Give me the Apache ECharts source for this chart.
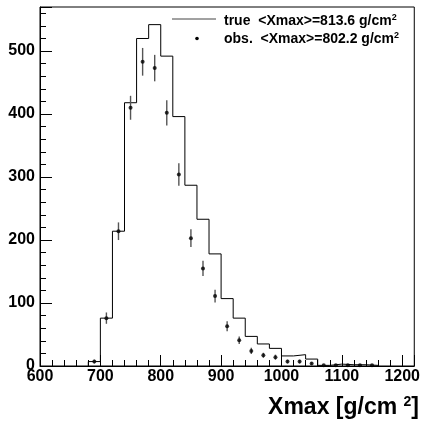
<!DOCTYPE html>
<html><head><meta charset="utf-8">
<script src="https://cdn.jsdelivr.net/npm/echarts@6/dist/echarts.min.js"></script>
<style>html,body{margin:0;padding:0;background:#fff}#c{width:423px;height:423px}</style>
</head><body><div id="c"></div>
<script>
// ---- data ----
const binStart = 680;
const binWidth = 20;
const trueCounts = [7, 76, 214, 418, 520, 542, 492, 396, 287, 233, 178, 107, 76, 47, 35, 28, 16, 18, 11, 1, 3, 2, 2, 1];
const obsCounts  = [7, 76, 214, 410, 483, 473, 402, 304, 203, 155, 111, 63, 41, 24, 17, 14, 7, 7, 4, 1, 1, 1, 1, 1];
const obsErrors  = [3, 9, 14, 19, 22, 21, 20, 18, 14, 12, 10, 8, 6, 5, 4, 4, 3, 3, 2, 1, 1, 1, 1, 1];
const xRange = [600, 1220];
const yRange = [0, 570];
const legendTrue = 'true  <Xmax>=813.6 g/cm';
const legendObs = 'obs.  <Xmax>=802.2 g/cm';
const xTitle = 'Xmax [g/cm';

// ---- derived series data ----
const stepData = [[binStart, 0]];
trueCounts.forEach((v, i) => stepData.push([binStart + (i + 1) * binWidth, v]));
stepData.push([binStart + trueCounts.length * binWidth, 0]);
const obsPoints = obsCounts.map((v, i) => [binStart + binWidth * (i + 0.5), v]);
const errData = obsCounts.map((v, i) => [binStart + binWidth * (i + 0.5), v, obsErrors[i]]);

const FONT = 'Liberation Sans, Arial, Helvetica, sans-serif';
const chart = echarts.init(document.getElementById('c'), null, {renderer: 'canvas'});
chart.setOption({
  animation: false,
  backgroundColor: '#fff',
  grid: {left: 40, right: 8, top: 7, bottom: 57, show: true, borderColor: '#000', borderWidth: 1, backgroundColor: 'transparent'},
  xAxis: {
    type: 'value', min: xRange[0], max: xRange[1], interval: 100,
    axisLine: {show: true, lineStyle: {color: '#000', width: 1}},
    axisTick: {show: true, inside: true, length: 11, lineStyle: {color: '#000', width: 1}},
    minorTick: {show: true, splitNumber: 5, length: 6, lineStyle: {color: '#000', width: 1}},
    splitLine: {show: false},
    axisLabel: {show: true, color: '#000', fontFamily: FONT, fontWeight: 'bold', fontSize: 16, margin: 3,
      formatter: v => (v % 100 === 0 ? String(v) : '')}
  },
  yAxis: {
    type: 'value', min: yRange[0], max: yRange[1], interval: 100,
    axisLine: {show: true, lineStyle: {color: '#000', width: 1}},
    axisTick: {show: true, inside: true, length: 12, lineStyle: {color: '#000', width: 1}},
    minorTick: {show: true, splitNumber: 5, length: 6, lineStyle: {color: '#000', width: 1}},
    splitLine: {show: false},
    axisLabel: {show: true, color: '#000', fontFamily: FONT, fontWeight: 'bold', fontSize: 16, margin: 5,
      formatter: v => (v % 100 === 0 ? String(v) : '')}
  },
  series: [
    {
      type: 'line', name: 'true', data: stepData, step: 'start', symbol: 'none',
      lineStyle: {color: '#000', width: 1}, silent: true, z: 3
    },
    {
      type: 'custom', name: 'obsErr', data: errData, silent: true, z: 4,
      encode: {x: 0, y: 1},
      renderItem: function (params, api) {
        const x = api.value(0), v = api.value(1), e = api.value(2);
        const p1 = api.coord([x, Math.max(v - e, 0)]);
        const p2 = api.coord([x, v + e]);
        return {type: 'line', shape: {x1: p1[0], y1: p1[1], x2: p2[0], y2: p2[1]},
          style: {stroke: '#555', lineWidth: 1.4}};
      }
    },
    {
      type: 'scatter', name: 'obs.', data: obsPoints, symbol: 'circle', symbolSize: 4,
      itemStyle: {color: '#000'}, silent: true, z: 5
    }
  ],
  graphic: [
    {type: 'line', shape: {x1: 172, y1: 19, x2: 216, y2: 19}, style: {stroke: '#444', lineWidth: 1}},
    {type: 'circle', shape: {cx: 197, cy: 38.5, r: 1.8}, style: {fill: '#000'}},
    {type: 'text', x: 224, y: 21, style: {
      text: '{a|' + legendTrue + '}{s|2}', verticalAlign: 'middle', align: 'left',
      rich: {a: {fontFamily: FONT, fontWeight: 'bold', fontSize: 14, fill: '#000', lineHeight: 15},
             s: {fontFamily: FONT, fontWeight: 'bold', fontSize: 9, fill: '#000', verticalAlign: 'top', lineHeight: 9}}}},
    {type: 'text', x: 224, y: 39, style: {
      text: '{a|' + legendObs + '}{s|2}', verticalAlign: 'middle', align: 'left',
      rich: {a: {fontFamily: FONT, fontWeight: 'bold', fontSize: 14, fill: '#000', lineHeight: 15},
             s: {fontFamily: FONT, fontWeight: 'bold', fontSize: 9, fill: '#000', verticalAlign: 'top', lineHeight: 9}}}},
    {type: 'text', x: 419, y: 408, style: {
      text: '{a|' + xTitle + ' }{s|2}{a|]}', verticalAlign: 'middle', align: 'right',
      rich: {a: {fontFamily: FONT, fontWeight: 'bold', fontSize: 23, fill: '#000', lineHeight: 26},
             s: {fontFamily: FONT, fontWeight: 'bold', fontSize: 14, fill: '#000', verticalAlign: 'top', lineHeight: 14}}}}
  ]
});
</script>
</body></html>
